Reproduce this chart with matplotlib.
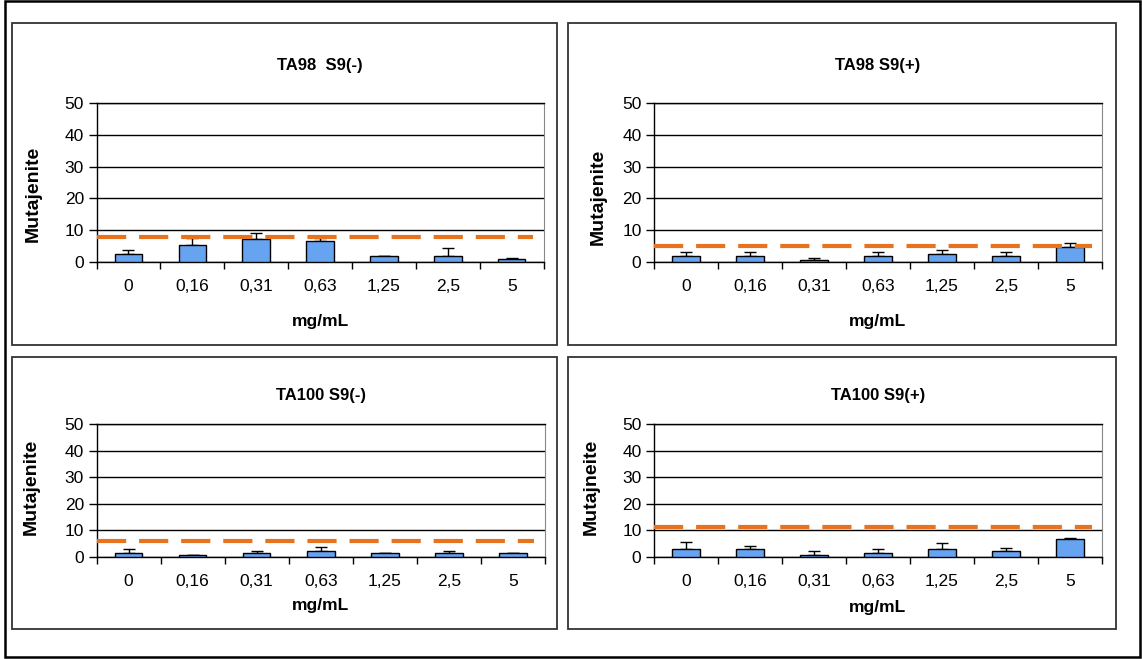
import numpy as np
import matplotlib.pyplot as plt
from matplotlib.patches import Rectangle

plt.rcParams['font.family'] = ['Liberation Sans', 'DejaVu Sans']

# -----------------------------
# Data
# -----------------------------
doses = ["0", "0,16", "0,31", "0,63", "1,25", "2,5", "5"]

titles = ["TA98  S9(-)", "TA98 S9(+)", "TA100 S9(-)", "TA100 S9(+)"]
ylabels = ["Mutajenite", "Mutajenite", "Mutajenite", "Mutajneite"]

ta98_minus = [2.6, 5.5, 7.2, 6.7, 2.0, 2.0, 0.8]
ta98_minus_err = [1.2, 2.0, 1.8, 0.8, 0.0, 2.3, 0.5]
ta98_plus = [2.0, 2.0, 0.7, 2.0, 2.6, 2.0, 4.8]
ta98_plus_err = [1.1, 1.1, 0.5, 1.1, 1.1, 1.1, 1.2]
ta100_minus = [1.6, 0.8, 1.6, 2.4, 1.6, 1.6, 1.6]
ta100_minus_err = [1.3, 0.0, 0.6, 1.3, 0.0, 0.6, 0.0]
ta100_plus = [3.0, 3.0, 0.9, 1.6, 3.0, 2.4, 6.6]
ta100_plus_err = [2.8, 1.3, 1.4, 1.3, 2.1, 1.1, 0.6]

# limit line for each panel
limits = [8.0, 5.0, 6.2, 11.1]

values = [ta98_minus, ta98_plus, ta100_minus, ta100_plus]
errors = [ta98_minus_err, ta98_plus_err, ta100_minus_err, ta100_plus_err]

# -----------------------------
# Layout (pixels of a 1142x659 image)
# -----------------------------
W, H = 1142, 659
fig = plt.figure(figsize=(W / 100, H / 100), dpi=100)

def fx(px):
    return px / W

def fy(py):
    return 1 - py / H

# outer border and panel frames
fig.patches.append(Rectangle((fx(5), fy(657)), fx(1135), 656 / H, transform=fig.transFigure,
                             fill=False, edgecolor="black", linewidth=1.8))
frames = [(12, 23, 557, 345), (568, 23, 1116, 345), (12, 357, 557, 629), (568, 357, 1116, 629)]
for x0, y0, x1, y1 in frames:
    fig.patches.append(Rectangle((fx(x0), fy(y1)), fx(x1 - x0), (y1 - y0) / H,
                                 transform=fig.transFigure, fill=False,
                                 edgecolor="#333333", linewidth=1.3))

# axes boxes: left, top, right, bottom (px)
boxes = [(96.5, 103, 543.7, 262), (654, 103, 1102, 262),
         (96.5, 424, 545, 557), (654, 424, 1102, 557)]
title_pad = [24, 24, 17, 17]
ylabel_pos = [(-0.142, 0.43), (-0.125, 0.41), (-0.146, 0.53), (-0.141, 0.53)]
xlabel_y = [-0.377, -0.377, -0.361, -0.376]
line_end = [0.976, 0.978, 0.975, 0.978]

x = np.arange(len(doses))

for i in range(4):
    l, t, r, b = boxes[i]
    ax = fig.add_axes([fx(l), fy(b), fx(r - l), (b - t) / H])

    ax.bar(x, values[i], width=0.43, color="#66A3F0", edgecolor="black", linewidth=1.0, zorder=3)
    ax.errorbar(x, values[i], yerr=[np.zeros(len(x)), errors[i]], fmt="none",
                ecolor="black", elinewidth=1.0, capsize=4, capthick=1.0, zorder=2)
    ax.axhline(limits[i], xmin=0, xmax=line_end[i], color="#E8731E", linewidth=3,
               linestyle=(0, (7, 3.1)), zorder=4)

    ax.set_xlim(-0.5, len(doses) - 0.5)
    ax.set_ylim(0, 50)
    ax.set_yticks([0, 10, 20, 30, 40, 50])
    ax.yaxis.grid(True, color="black", linewidth=1.0)
    ax.set_axisbelow(True)

    # Excel style ticks between categories
    ax.set_xticks(np.arange(len(doses) + 1) - 0.5)
    ax.set_xticklabels([])
    ax.set_xticks(x, minor=True)
    ax.set_xticklabels(doses, minor=True, fontsize=12.5)
    ax.tick_params(axis="x", which="major", direction="out", length=5, width=1.0)
    ax.tick_params(axis="x", which="minor", length=0, pad=12)
    ax.tick_params(axis="y", direction="out", length=6, width=1.0, labelsize=12.5, pad=3)

    for s in ["left", "bottom", "top"]:
        ax.spines[s].set_color("black")
        ax.spines[s].set_linewidth(1.0)
    ax.spines["right"].set_color("#888888")

    ax.set_xlabel("mg/mL", fontsize=12.5, fontweight="bold")
    ax.xaxis.set_label_coords(0.5, xlabel_y[i])
    ax.xaxis.label.set_va("center")
    ax.set_ylabel(ylabels[i], fontsize=14, fontweight="bold")
    ax.yaxis.set_label_coords(*ylabel_pos[i])
    ax.yaxis.label.set_va("center")
    ax.set_title(titles[i], fontsize=12, fontweight="bold", pad=title_pad[i])

fig.savefig("out.png", dpi=100)
